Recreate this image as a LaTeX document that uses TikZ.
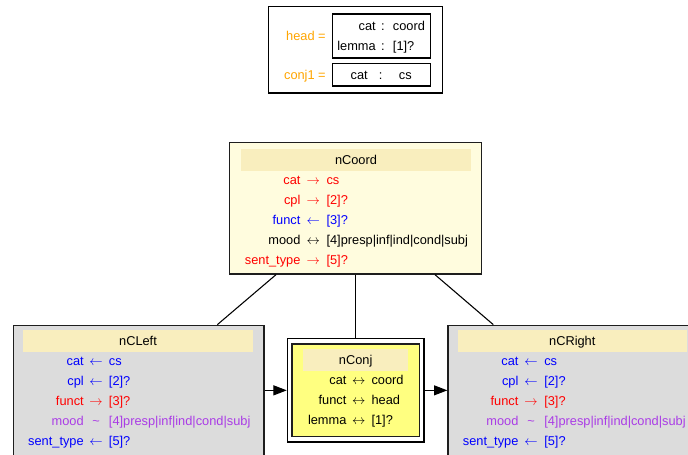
\documentclass[tikz,border=0pt]{standalone}
\usepackage{fontspec}
\setmainfont{Liberation Sans}
\usetikzlibrary{fit,calc,arrows.meta}
\definecolor{cred}{RGB}{255,0,0}
\definecolor{cblue}{RGB}{0,0,255}
\definecolor{cpurp}{RGB}{170,60,230}
\definecolor{corange}{RGB}{255,165,0}
\definecolor{lyellow}{RGB}{255,252,222}
\definecolor{khaki}{RGB}{249,238,190}
\definecolor{lgray}{RGB}{220,220,220}
\definecolor{yel}{RGB}{255,255,128}
\definecolor{edgec}{RGB}{30,30,30}
\newcommand\ra{\(\rightarrow\)}
\newcommand\la{\(\leftarrow\)}
\newcommand\lra{\(\leftrightarrow\)}
\newcommand\rw[9]{%
  \node[lab,text=#6] (#1l) at (#3,#2) {#7};
  \node[arr,text=#6] (#1a) at (#4,#2) {#8};
  \node[val,text=#6] (#1v) at (#5,#2) {#9};}
\begin{document}
\begin{tikzpicture}[x=0.75pt,y=-0.75pt,font=\fontsize{9.6}{11.5}\selectfont,
  txt/.style={inner sep=0pt,text height=6.8pt,text depth=0pt},
  lab/.style={txt,anchor=east},
  arr/.style={txt,anchor=center},
  val/.style={txt,anchor=west},
  box/.style={draw=edgec,line width=1pt,inner sep=0pt},
  hdr/.style={fill=khaki,inner sep=0pt},
  thinbox/.style={draw=black,line width=0.8pt,inner sep=0pt},
  conn/.style={draw=black,line width=0.8pt},
  arrow/.style={conn,-{Triangle[length=10pt,width=7.5pt]}}]
\useasboundingbox (0,0) rectangle (688,454);
\clip (0,0) rectangle (688,454);

% top feature structure
\node[thinbox,fit={(268.7,6.7) (442.7,93)}] (top) {};
\node[thinbox,fit={(332.7,14) (430.7,58)}] (hb) {};
\node[thinbox,fit={(332.7,63.3) (430.7,86)}] (cb) {};
\node[lab,text=corange] (hd) at (326,35.7) {head =};
\node[lab,text=corange] (cj) at (326,74.5) {conj1 =};
\node[lab] (hb1l) at (376,25.7) {cat};
\node[arr] (hb1a) at (383,25.7) {:};
\node[val] (hb1v) at (392.7,25.7) {coord};
\node[lab] (hb2l) at (376,46) {lemma};
\node[arr] (hb2a) at (383,46) {:};
\node[val] (hb2v) at (392.7,46) {[1]?};
\node[lab] (cb1l) at (368,74.5) {cat};
\node[arr] (cb1a) at (380.7,74.5) {:};
\node[val] (cb1v) at (398.7,74.5) {cs};

% nCoord
\node[box,fill=lyellow,fit={(229.3,142.7) (481.3,274)}] (ncoord) {};
\node[hdr,fit={(241.3,149.3) (470.7,170.7)}] (ncoordh) {};
\node[arr] (ncoordt) at (ncoordh.center) {nCoord};
\rw{co1}{180}{300.7}{313.3}{326.3}{cred}{cat}{\ra}{cs}
\rw{co2}{200}{300.7}{313.3}{326.3}{cred}{cpl}{\ra}{[2]?}
\rw{co3}{220}{300.7}{313.3}{326.3}{cblue}{funct}{\la}{[3]?}
\rw{co4}{240}{300.7}{313.3}{326.3}{black}{mood}{\lra}{[4]presp|inf|ind|cond|subj}
\rw{co5}{260}{300.7}{313.3}{326.3}{cred}{sent\_type}{\ra}{[5]?}

% nCLeft
\node[box,fill=lgray,fit={(13.3,325.3) (264,457)}] (nleft) {};
\node[hdr,fit={(23.3,330) (252.7,351.7)}] (nlefth) {};
\node[arr] (nleftt) at (nlefth.center) {nCLeft};
\rw{le1}{361}{84}{96}{108.7}{cblue}{cat}{\la}{cs}
\rw{le2}{381}{84}{96}{108.7}{cblue}{cpl}{\la}{[2]?}
\rw{le3}{400.7}{84}{96}{108.7}{cred}{funct}{\ra}{[3]?}
\rw{le4}{420.5}{84}{96}{108.7}{cpurp}{mood}{\textasciitilde}{[4]presp|inf|ind|cond|subj}
\rw{le5}{440.5}{84}{96}{108.7}{cblue}{sent\_type}{\la}{[5]?}

% nCRight
\node[box,fill=lgray,fit={(448,325.3) (699,457)}] (nright) {};
\node[hdr,fit={(458,330) (687,351.7)}] (nrighth) {};
\node[arr] (nrightt) at (572.3,341) {nCRight};
\rw{ri1}{361}{518.7}{531}{544}{cblue}{cat}{\la}{cs}
\rw{ri2}{381}{518.7}{531}{544}{cblue}{cpl}{\la}{[2]?}
\rw{ri3}{400.7}{518.7}{531}{544}{cred}{funct}{\ra}{[3]?}
\rw{ri4}{420.5}{518.7}{531}{544}{cpurp}{mood}{\textasciitilde}{[4]presp|inf|ind|cond|subj}
\rw{ri5}{440.5}{518.7}{531}{544}{cblue}{sent\_type}{\la}{[5]?}

% nConj (double border)
\node[draw=black,line width=0.8pt,fill=white,inner sep=0pt,fit={(287.3,338.7) (424,442)}] (nconj) {};
\node[box,fill=yel,fit={(292,344) (419.3,436.7)}] (nconjin) {};
\node[hdr,fit={(303.3,349.3) (408,371)}] (nconjh) {};
\node[arr] (nconjt) at (nconjh.center) {nConj};
\rw{cj1}{380}{346.7}{358.7}{371.3}{black}{cat}{\lra}{coord}
\rw{cj2}{400}{346.7}{358.7}{371.3}{black}{funct}{\lra}{head}
\rw{cj3}{420}{346.7}{358.7}{371.3}{black}{lemma}{\lra}{[1]?}

% connectors
\draw[conn] ($(ncoord.south)+(-79.3,0)$) -- ($(nleft.north)+(78.7,0)$);
\draw[conn] (ncoord.south) -- (ncoord.south |- nconj.north);
\draw[conn] ($(ncoord.south)+(79.7,0)$) -- ($(nright.north)+(-80.2,0)$);
\draw[arrow] (nleft.east |- nconj.west) -- (nconj.west);
\draw[arrow] (nconj.east) -- (nright.west |- nconj.east);
\end{tikzpicture}
\end{document}
